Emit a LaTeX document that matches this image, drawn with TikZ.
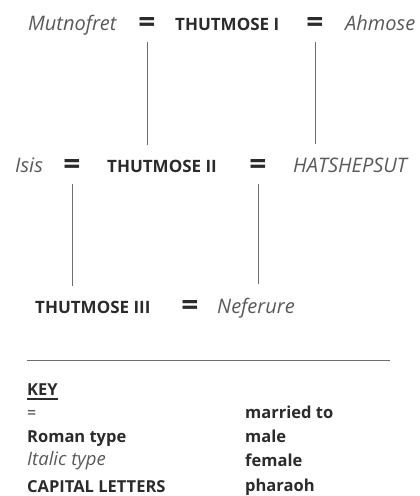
\documentclass[tikz,border=0pt]{standalone}
\usepackage{fontspec}
\setmainfont{Open Sans}
\usepackage{tikz}
\usetikzlibrary{positioning}
\definecolor{ink}{HTML}{2B2B2B}
\definecolor{soft}{HTML}{595959}
\definecolor{stemgray}{HTML}{6E6E6E}
\tikzstyle{male}  =[inner sep=0pt, outer ysep=15pt, anchor=base west,
                    font=\fontsize{17}{19}\selectfont\bfseries, text=ink]
\tikzstyle{female}=[inner sep=0pt, outer ysep=14pt, anchor=base west,
                    font=\fontsize{20}{22}\selectfont\itshape, text=soft]
\tikzstyle{wed}   =[inner sep=0pt, minimum height=33pt,
                    font=\fontsize{30}{30}\selectfont\bfseries, text=ink]
\tikzstyle{stem}  =[draw=stemgray, line width=0.9pt]
\tikzstyle{keyrow}=[inner sep=0pt, anchor=base west,
                    font=\fontsize{16.5}{18}\selectfont\bfseries, text=ink]

\begin{document}
\begin{tikzpicture}[x=1pt, y=-1pt]
    \useasboundingbox (0,0) rectangle (420,496);
    % first generation
    \node (mut) [female] at (28,30) {Mutnofret};
    \node (eqA) [wed] at (147,25) {=};
    \node (th1) [male] at (175,30) {THUTMOSE I};
    \node (eqB) [wed] at (315,25) {=};
    \node (ahm) [female] at (345,30) {Ahmose};
    % second generation
    \node (isis) [female] at (15,172) {Isis};
    \node (eqC) [wed] at (72,167) {=};
    \node (th2) [male] at (107,172) {THUTMOSE II};
    \node (eqD) [wed] at (258,167) {=};
    \node (hat) [female] at (293,172) {HATSHEPSUT};
    % third generation
    \node (th3) [male] at (35,313) {THUTMOSE III};
    \node (eqE) [wed] at (190,308) {=};
    \node (nef) [female] at (217,313) {Neferure};
    \draw[stem] (eqA.south) -- (eqA.south |- th2.north);
    \draw[stem] (eqB.south) -- (eqB.south |- hat.north);
    \draw[stem] (eqC.south) -- (eqC.south |- th3.north);
    \draw[stem] (eqD.south) -- (eqD.south |- nef.north);
    % key
    \coordinate (ruleL) at (27,360);
    \coordinate (ruleR) at (390,360);
    \draw[stem] (ruleL) -- (ruleR);
    \node (key) [keyrow] at (27,395) {KEY};
    \draw[draw=ink, line width=1.2pt] ([yshift=-4pt]key.base west) -- ([yshift=-4pt]key.base east);
    \node (k1) [keyrow, font=\fontsize{16}{18}\selectfont] at (27,418) {=};
    \node (k2) [keyrow] at (27,442) {Roman type};
    \node (k3) [keyrow, font=\fontsize{18.5}{20}\selectfont\itshape, text=soft] at (27,465) {Italic type};
    \node (k4) [keyrow] at (27,492) {CAPITAL LETTERS};
    \node (v1) [keyrow] at (245,418) {married to};
    \node (v2) [keyrow] at (245,442) {male};
    \node (v3) [keyrow] at (245,466) {female};
    \node (v4) [keyrow] at (245,491) {pharaoh};
\end{tikzpicture}
\end{document}
